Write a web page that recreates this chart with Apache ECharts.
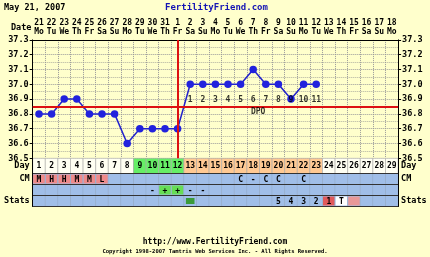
<!DOCTYPE html>
<html><head><meta charset="utf-8">
<script src="https://cdn.jsdelivr.net/npm/echarts@6/dist/echarts.min.js"></script>
<style>html,body{margin:0;padding:0;background:#FFFFCC;}#c{width:430px;height:257px;}</style>
</head><body><div id="c"></div>
<script>
// ---- data ----
const dates = ['21','22','23','24','25','26','27','28','29','30','31','1','2','3','4','5','6','7','8','9','10','11','12','13','14','15','16','17','18'];
const weekdays = ['Mo','Tu','We','Th','Fr','Sa','Su','Mo','Tu','We','Th','Fr','Sa','Su','Mo','Tu','We','Th','Fr','Sa','Su','Mo','Tu','We','Th','Fr','Sa','Su','Mo'];
const cycleDays = ['1','2','3','4','5','6','7','8','9','10','11','12','13','14','15','16','17','18','19','20','21','22','23','24','25','26','27','28','29'];
const temps = [36.8,36.8,36.9,36.9,36.8,36.8,36.8,36.6,36.7,36.7,36.7,36.7,37.0,37.0,37.0,37.0,37.0,37.1,37.0,37.0,36.9,37.0,37.0,null,null,null,null,null,null];
const dpoNumbers = ['','','','','','','','','','','','','1','2','3','4','5','6','7','8','9','10','11','','','','','',''];
const coverline = 36.85;
const ovulationDay = '12';
const phase = ['pre','pre','pre','pre','pre','pre','pre','pre','fertile','fertile','fertile','fertile','luteal','luteal','luteal','luteal','luteal','luteal','luteal','luteal','luteal','luteal','luteal','','','','','',''];
const cm = ['M','H','H','M','M','L','','','','','','','','','','','C','-','C','C','','C','','','','','','',''];
const opk = ['','','','','','','','','','-','+','+','-','-','','','','','','','','','','','','','','',''];
const stats = ['','','','','','','','','','','','','O','','','','','','','5','4','3','2','1','T','P','','',''];
const tempTicks = {min:36.5, max:37.3, step:0.1};
const rowNames = ['Stats','OPK','CM'];

// ---- styles ----
const FONT = 'DejaVu Sans Mono';
const BG = '#FFFFCC';
const BLUE = '#A0BEE8';
const phaseColor = {pre:'#FFFFF2', fertile:'#66EE66', luteal:'#FFC993', '':'#FFFFF2'};
function cellColor(row, code){
  if(row==='CM'){ if(['H','M','L'].includes(code)) return '#EE8A8A'; return BLUE; }
  if(row==='OPK'){ if(code==='+') return '#66DD55'; return BLUE; }
  if(row==='Stats'){
    if(code==='O') return '#3A9A3A';
    if(code==='1') return '#E05A5A';
    if(code==='T') return '#FFFFFF';
    if(code==='P') return '#E89898';
    return BLUE;
  }
  return BLUE;
}
function cellText(row, code){ if(row==='Stats' && (code==='O'||code==='P')) return ''; return code; }

const L = 32.7, W = 365.4;
const chart = echarts.init(document.getElementById('c'), null, {renderer:'canvas'});
const lab = {fontFamily:FONT, fontWeight:'bold', fontSize:8.5, color:'#000'};

function rowCells(){
  const out=[];
  rowNames.forEach((r,ri)=>{
    const arr = r==='CM'?cm:(r==='OPK'?opk:stats);
    arr.forEach((code,i)=>out.push([i,ri,code]));
  });
  return out;
}

chart.setOption({
  backgroundColor: BG,
  animation:false,
  grid:[
    {left:L, top:39.9, width:W, height:118.4},
    {left:L, top:158.3, width:W, height:15.2},
    {left:L, top:173.5, width:W, height:33}
  ],
  xAxis:[
    {type:'category', gridIndex:0, data:cycleDays, position:'top', boundaryGap:true,
     axisLine:{lineStyle:{color:'#000'}}, axisTick:{show:false},
     axisLabel:{interval:0, margin:3, lineHeight:9, ...lab, fontSize:8,
       formatter:(v,i)=>dates[i]+'\n'+weekdays[i]},
     splitLine:{show:true, interval:0, lineStyle:{color:'#9a9a9a', type:'dotted', width:1}}},
    {type:'category', gridIndex:1, data:cycleDays, show:false},
    {type:'category', gridIndex:2, data:cycleDays, show:false}
  ],
  yAxis:[
    {type:'value', gridIndex:0, min:tempTicks.min, max:tempTicks.max, interval:tempTicks.step,
     axisLine:{show:true, lineStyle:{color:'#000'}}, axisTick:{show:true, length:3, lineStyle:{color:'#000'}},
     axisLabel:{...lab, margin:4, formatter:v=>v.toFixed(1)},
     splitLine:{lineStyle:{color:'#9a9a9a', type:'dotted'}},
     minorTick:{show:false, splitNumber:2},
     minorSplitLine:{show:true, lineStyle:{color:'#b0b0a0', type:'dotted'}}},
    {type:'value', gridIndex:0, position:'right', min:tempTicks.min, max:tempTicks.max, interval:tempTicks.step,
     axisLine:{show:true, lineStyle:{color:'#000'}}, axisTick:{show:true, length:3, lineStyle:{color:'#000'}},
     axisLabel:{...lab, margin:4, formatter:v=>v.toFixed(1)}, splitLine:{show:false}},
    {type:'category', gridIndex:1, data:['Day'], z:5,
     axisLine:{show:true, lineStyle:{color:'#000'}}, axisTick:{show:false}, axisLabel:{...lab, margin:3},
     splitLine:{show:false}},
    {type:'category', gridIndex:1, data:['Day'], position:'right', z:5,
     axisLine:{show:true, lineStyle:{color:'#000'}}, axisTick:{show:false}, axisLabel:{...lab, margin:3}},
    {type:'category', gridIndex:2, data:rowNames, z:5,
     axisLine:{show:true, lineStyle:{color:'#000'}}, axisTick:{show:false}, axisLabel:{...lab, margin:3},
     splitLine:{show:true, interval:0, lineStyle:{color:'#333', width:1}}},
    {type:'category', gridIndex:2, data:rowNames, position:'right', z:5,
     axisLine:{show:true, lineStyle:{color:'#000'}}, axisTick:{show:false}, axisLabel:{...lab, margin:3}}
  ],
  graphic:[
    {type:'text', left:4, top:3, style:{text:'May 21, 2007', font:'bold 8.5px '+FONT, fill:'#000'}},
    {type:'text', left:165, top:3, style:{text:'FertilityFriend.com', font:'bold 9px '+FONT, fill:'#1414B4'}},
    {type:'text', left:11, top:23, style:{text:'Date', font:'bold 8.5px '+FONT, fill:'#000'}},
    {type:'text', left:'center', top:238, style:{text:'http://www.FertilityFriend.com', font:'bold 8px '+FONT, fill:'#000'}},
    {type:'text', left:'center', top:249, style:{text:'Copyright 1998-2007 Tamtris Web Services Inc. - All Rights Reserved.', font:'bold 5.5px '+FONT, fill:'#000'}}
  ],
  series:[
    {type:'line', xAxisIndex:0, yAxisIndex:0, data:temps, symbol:'circle', symbolSize:7.5, z:4,
     lineStyle:{color:'#2222CC', width:1.5}, itemStyle:{color:'#2222DD'},
     markLine:{silent:true, symbol:'none', label:{show:false},
       lineStyle:{color:'#DD1111', width:2, type:'solid'},
       data:[{xAxis:ovulationDay},{yAxis:coverline}]}},
    {type:'scatter', xAxisIndex:0, yAxisIndex:0, symbolSize:0, z:5,
     data:dpoNumbers.map((t,i)=>t?[i, 36.893, t]:null).filter(Boolean),
     label:{show:true, position:'inside', ...lab, fontSize:8, formatter:p=>p.data[2]}},
    {type:'scatter', xAxisIndex:0, yAxisIndex:0, symbolSize:0, z:5,
     data:[[17, 36.81, 'DPO']],
     label:{show:true, position:'inside', offset:[5,0], ...lab, fontSize:8, formatter:p=>p.data[2]}},
    {type:'custom', xAxisIndex:1, yAxisIndex:2, z:2,
     data:cycleDays.map((d,i)=>[i,0,d,phase[i]]),
     renderItem:(params, api)=>{
       const i = api.value(0);
       const p = api.coord([i,0]); const s = api.size([1,1]);
       return {type:'group', children:[
         {type:'rect', shape:{x:p[0]-s[0]/2, y:p[1]-s[1]/2, width:s[0], height:s[1]},
          style:{fill:phaseColor[phase[i]], stroke:'#a8a8a8', lineWidth:0.6}},
         {type:'text', style:{text:cycleDays[i], x:p[0], y:p[1]+0.5, align:'center', verticalAlign:'middle', font:'bold 8px '+FONT, fill:'#000'}}
       ]};
     }},
    {type:'custom', xAxisIndex:2, yAxisIndex:4, z:2,
     data:rowCells(),
     renderItem:(params, api)=>{
       const i = api.value(0), r = api.value(1);
       const d = rowCells()[params.dataIndex];
       const row = rowNames[r], code = d[2];
       const p = api.coord([i,r]); const s = api.size([1,1]);
       const inset = (row==='Stats'&&code==='O')?1.5:0;
       return {type:'group', children:[
         {type:'rect', shape:{x:p[0]-s[0]/2, y:p[1]-s[1]/2, width:s[0], height:s[1]},
          style:{fill:BLUE, stroke:'#8fa6c8', lineWidth:0.6}},
         {type:'rect', shape:{x:p[0]-s[0]/2+0.5+inset, y:p[1]-s[1]/2+1+inset, width:s[0]-1-inset*2, height:s[1]-2-inset*2},
          style:{fill:cellColor(row,code)}},
         {type:'text', style:{text:cellText(row,code), x:p[0], y:p[1]+0.5, align:'center', verticalAlign:'middle', font:'bold 8px '+FONT, fill:'#000'}}
       ]};
     }}
  ]
});
</script></body></html>
